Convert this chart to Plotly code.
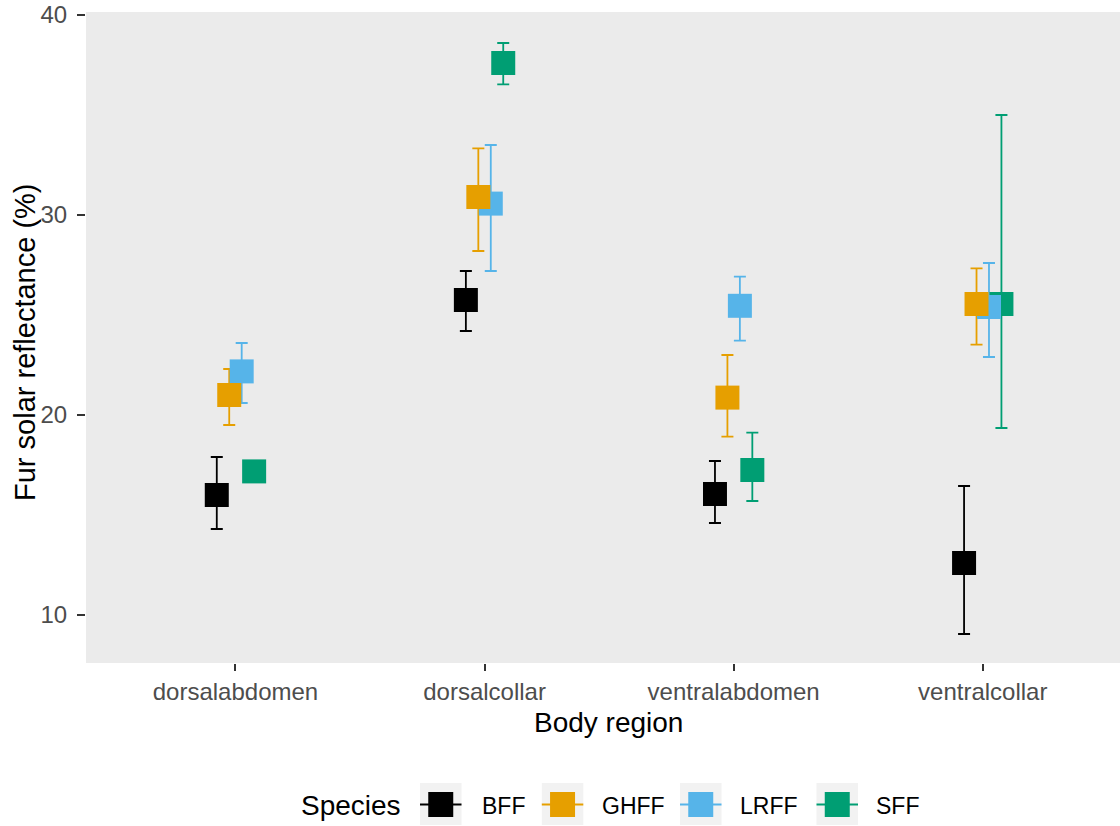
import plotly.graph_objects as go

# Body regions on the x axis
regions = ["dorsalabdomen", "dorsalcollar", "ventralabdomen", "ventralcollar"]

# Species, in legend order, with their colours
species = ["BFF", "GHFF", "LRFF", "SFF"]
colors = {"BFF": "#000000", "GHFF": "#E69F00", "LRFF": "#56B4E9", "SFF": "#009E73"}

# Mean fur solar reflectance (%) per region, with lower / upper error limits
bff_mean = [16.0, 25.75, 16.05, 12.6]
bff_lower = [14.3, 24.2, 14.6, 9.05]
bff_upper = [17.9, 27.2, 17.7, 16.45]

ghff_mean = [21.0, 30.9, 20.87, 25.55]
ghff_lower = [19.5, 28.2, 18.92, 23.52]
ghff_upper = [22.3, 33.33, 23.0, 27.33]

lrff_mean = [22.18, 30.57, 25.46, 25.4]
lrff_lower = [20.6, 27.2, 23.72, 22.9]
lrff_upper = [23.6, 33.5, 26.92, 27.6]

sff_mean = [17.18, 37.6, 17.25, 25.55]
sff_lower = [16.9, 36.53, 15.7, 19.35]
sff_upper = [17.45, 38.6, 19.12, 35.0]

y_ticks = [10, 20, 30, 40]

data = {
    "BFF": (bff_mean, bff_lower, bff_upper),
    "GHFF": (ghff_mean, ghff_lower, ghff_upper),
    "LRFF": (lrff_mean, lrff_lower, lrff_upper),
    "SFF": (sff_mean, sff_lower, sff_upper),
}

W, H = 1120, 826
ML, MR, MT, MB = 86, 0, 12, 163
PW, PH = W - ML - MR, H - MT - MB

DODGE = 0.05  # horizontal offset between species within a region


def xpos(sp):
    k = species.index(sp)
    off = (k - (len(species) - 1) / 2) * DODGE
    return [i + off for i in range(len(regions))]


def px_x(px):
    return (px - ML) / PW


def px_y(py):
    return (H - MB - py) / PH


fig = go.Figure()

# error bars first, so every square sits on top of them
for sp in species:
    m, lo, hi = data[sp]
    fig.add_trace(go.Scatter(
        x=xpos(sp), y=m, mode="markers",
        marker=dict(size=2, opacity=0, color=colors[sp]),
        error_y=dict(type="data", symmetric=False,
                     array=[h - v for h, v in zip(hi, m)],
                     arrayminus=[v - l for v, l in zip(m, lo)],
                     color=colors[sp], thickness=1.8, width=6),
        showlegend=False, hoverinfo="skip",
    ))

# squares for the means (later species drawn underneath earlier ones)
for sp in reversed(species):
    m, lo, hi = data[sp]
    fig.add_trace(go.Scatter(
        x=xpos(sp), y=m, mode="markers", name=sp,
        marker=dict(symbol="square", size=24, color=colors[sp],
                    line=dict(width=0)),
        showlegend=False,
    ))

shapes = []
annotations = []

# legend: title, then a grey key box with a bar-and-square glyph per species
annotations.append(dict(text="Species", x=px_x(299), y=px_y(805), xref="paper", yref="paper",
                        xanchor="left", yanchor="middle", showarrow=False,
                        font=dict(size=28, color="#000000")))
key_left = [420, 541.8, 680, 816.5]
label_left = [480, 600, 738, 874]
key_w, key_top, key_bot = 41.5, 783, 825
key_cy = 804.5
sq = 25
for sp, kl, tl in zip(species, key_left, label_left):
    shapes.append(dict(type="rect", xref="paper", yref="paper", layer="above",
                       x0=px_x(kl), x1=px_x(kl + key_w), y0=px_y(key_bot), y1=px_y(key_top),
                       fillcolor="#F2F2F2", line=dict(width=0)))
    shapes.append(dict(type="line", xref="paper", yref="paper", layer="above",
                       x0=px_x(kl), x1=px_x(kl + key_w), y0=px_y(key_cy), y1=px_y(key_cy),
                       line=dict(color=colors[sp], width=1.8)))
    cx = kl + key_w / 2
    shapes.append(dict(type="rect", xref="paper", yref="paper", layer="above",
                       x0=px_x(cx - sq / 2), x1=px_x(cx + sq / 2),
                       y0=px_y(key_cy + sq / 2), y1=px_y(key_cy - sq / 2),
                       fillcolor=colors[sp], line=dict(width=0)))
    annotations.append(dict(text=sp, x=px_x(tl), y=px_y(806), xref="paper", yref="paper",
                            xanchor="left", yanchor="middle", showarrow=False,
                            font=dict(size=23, color="#000000")))

# axis titles
annotations.append(dict(text="Body region", x=px_x(608.5), y=px_y(722), xref="paper", yref="paper",
                        xanchor="center", yanchor="middle", showarrow=False,
                        font=dict(size=28, color="#000000")))
annotations.append(dict(text="Fur solar reflectance (%)", x=px_x(25), y=px_y(342),
                        xref="paper", yref="paper", textangle=-90,
                        xanchor="center", yanchor="middle", showarrow=False,
                        font=dict(size=29, color="#000000")))

fig.update_layout(
    width=W, height=H,
    margin=dict(l=ML, r=MR, t=MT, b=MB, pad=0),
    paper_bgcolor="#FFFFFF",
    plot_bgcolor="#EBEBEB",
    font=dict(family="Liberation Sans, Arial, sans-serif"),
    shapes=shapes,
    annotations=annotations,
    showlegend=False,
    xaxis=dict(
        range=[-0.6, 3.551], tickmode="array",
        tickvals=list(range(len(regions))), ticktext=regions,
        showgrid=False, zeroline=False, showline=False,
        ticks="outside", ticklen=7, tickwidth=1.5, tickcolor="#333333",
        tickfont=dict(size=24, color="#4D4D4D"), ticklabelstandoff=0,
    ),
    yaxis=dict(
        range=[7.6, 40.15], tickmode="array", tickvals=y_ticks,
        ticktext=[str(v) for v in y_ticks],
        showgrid=False, zeroline=False, showline=False,
        ticks="outside", ticklen=8, tickwidth=1.5, tickcolor="#333333",
        tickfont=dict(size=24, color="#4D4D4D"), ticklabelstandoff=5,
    ),
)

fig.write_html("out.html")
